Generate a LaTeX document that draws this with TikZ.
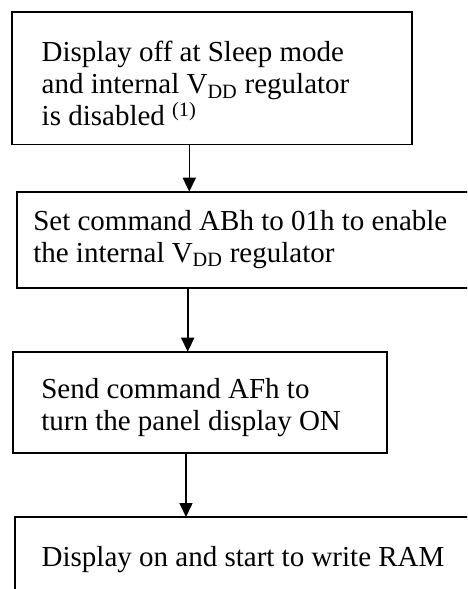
\documentclass[tikz,border=0pt]{standalone}
\usepackage{fontspec}
\setmainfont{Liberation Serif}
\usetikzlibrary{arrows.meta}
\tikzset{
flow box/.style={
  draw=black,
  line width=1.8pt,
  rectangle,
  anchor=north west,
  align=flush left,
  inner ysep=0pt,
  outer sep=0pt,
  font=\fontsize{29pt}{32pt}\selectfont
},
fig flow/.style={
  draw=black,
  -{Triangle[length=14pt,width=13pt]},
  line width=1.6pt
}
}

\begin{document}
\begin{tikzpicture}
\useasboundingbox (0,0) rectangle (467pt,-589pt);
\clip (0,0) rectangle (467pt,-589pt);
\node[flow box,text width=341.2pt,inner xsep=29.4pt,text height=49.4pt,text depth=82.8pt] (sleep) at (12.3pt,-12.3pt) {Display off at Sleep mode\\and internal V\textsubscript{DD} regulator\\is disabled \textsuperscript{(1)}};
\node[flow box,text width=447pt,inner xsep=16.5pt,text height=38.3pt,text depth=58.3pt] (enable) at (16.8pt,-191.7pt) {Set command ABh to 01h to enable\\the internal V\textsubscript{DD} regulator};
\node[flow box,text width=318pt,inner xsep=28pt,text height=46.3pt,text depth=55.3pt] (panel) at (13.3pt,-351.7pt) {Send command AFh to\\turn the panel display ON};
\node[flow box,text width=426.6pt,inner xsep=26.7pt,text height=49.7pt,text depth=60pt] (ram) at (15pt,-517pt) {Display on and start to write RAM};
\draw[fig flow] ([xshift=177pt]sleep.south west) -- ([xshift=177pt]sleep.south west |- enable.north);
\draw[fig flow] ([xshift=170.9pt]enable.south west) -- ([xshift=170.9pt]enable.south west |- panel.north);
\draw[fig flow] ([xshift=172.7pt]panel.south west) -- ([xshift=172.7pt]panel.south west |- ram.north);
\end{tikzpicture}
\end{document}
